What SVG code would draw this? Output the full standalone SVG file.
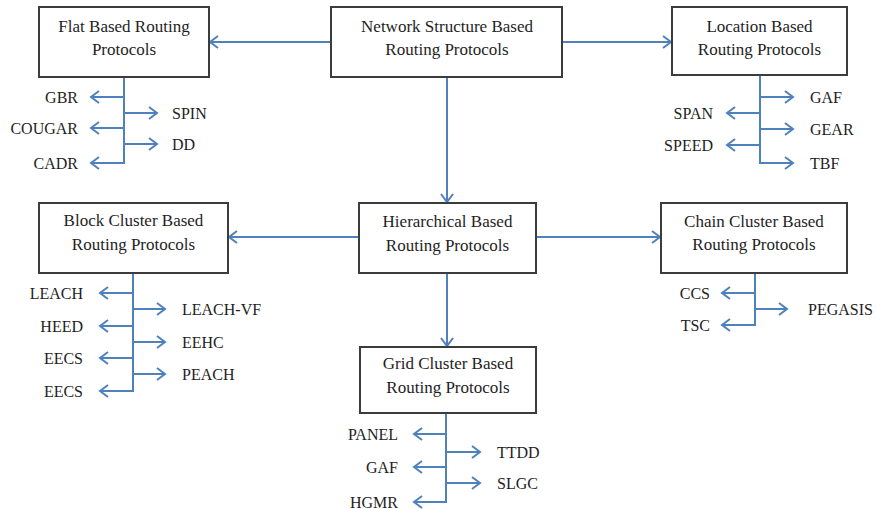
<svg xmlns="http://www.w3.org/2000/svg" width="877" height="509" viewBox="0 0 877 509">
<style>
.box{fill:#fff;stroke:#3c3c3c;stroke-width:2}
.bt{font-family:'Liberation Serif','DejaVu Serif',serif;font-size:17px;fill:#1e1e1e;text-anchor:middle}
.lb{font-family:'Liberation Serif','DejaVu Serif',serif;font-size:16px;fill:#1e1e1e}
.l{text-anchor:end}
.c{stroke:#4f81bd;stroke-width:2;fill:none}
.a{stroke:#4f81bd;stroke-width:2;fill:none;marker-end:url(#ah)}
</style>
<defs>
<marker id="ah" markerUnits="userSpaceOnUse" markerWidth="20" markerHeight="20" viewBox="-10 -10 20 20" refX="0" refY="0" orient="auto">
<path d="M-8,-6 L0,0 L-8,6" fill="none" stroke="#4f81bd" stroke-width="2"/>
</marker>
</defs>
<rect width="877" height="509" fill="#fff"/>
<g id="connectors">
<line class="a" x1="331" y1="42" x2="210" y2="42"/>
<line class="a" x1="562" y1="42" x2="671" y2="42"/>
<line class="a" x1="447" y1="77" x2="447" y2="202"/>
<line class="a" x1="359" y1="237" x2="229" y2="237"/>
<line class="a" x1="536" y1="237" x2="660" y2="237"/>
<line class="a" x1="447" y1="273" x2="447" y2="346"/>
<line class="c" x1="124" y1="77" x2="124" y2="164"/>
<line class="a" x1="125" y1="97" x2="91" y2="97"/>
<line class="a" x1="123" y1="113" x2="157" y2="113"/>
<line class="a" x1="125" y1="128" x2="91" y2="128"/>
<line class="a" x1="123" y1="144" x2="157" y2="144"/>
<line class="a" x1="125" y1="163" x2="91" y2="163"/>
<line class="c" x1="760" y1="75" x2="760" y2="164"/>
<line class="a" x1="759" y1="97" x2="793" y2="97"/>
<line class="a" x1="761" y1="113" x2="727" y2="113"/>
<line class="a" x1="759" y1="129" x2="793" y2="129"/>
<line class="a" x1="761" y1="145" x2="727" y2="145"/>
<line class="a" x1="759" y1="163" x2="793" y2="163"/>
<line class="c" x1="133" y1="273" x2="133" y2="392"/>
<line class="a" x1="134" y1="293" x2="100" y2="293"/>
<line class="a" x1="132" y1="309" x2="165" y2="309"/>
<line class="a" x1="134" y1="326" x2="100" y2="326"/>
<line class="a" x1="132" y1="342" x2="165" y2="342"/>
<line class="a" x1="134" y1="358" x2="100" y2="358"/>
<line class="a" x1="132" y1="374" x2="165" y2="374"/>
<line class="a" x1="134" y1="391" x2="100" y2="391"/>
<line class="c" x1="755" y1="273" x2="755" y2="326"/>
<line class="a" x1="756" y1="293" x2="722" y2="293"/>
<line class="a" x1="754" y1="309" x2="787" y2="309"/>
<line class="a" x1="756" y1="325" x2="722" y2="325"/>
<line class="c" x1="446" y1="413" x2="446" y2="503"/>
<line class="a" x1="447" y1="434" x2="414" y2="434"/>
<line class="a" x1="445" y1="452" x2="480" y2="452"/>
<line class="a" x1="447" y1="467" x2="414" y2="467"/>
<line class="a" x1="445" y1="483" x2="480" y2="483"/>
<line class="a" x1="447" y1="502" x2="414" y2="502"/>
</g>
<g id="network"><rect class="box" x="331" y="7" width="231" height="70"/>
<text class="bt" x="447" y="31.5">Network Structure Based</text><text class="bt" x="447" y="55">Routing Protocols</text></g>
<g id="flat"><rect class="box" x="39" y="7" width="170" height="70"/>
<text class="bt" x="124" y="31.5">Flat Based Routing</text><text class="bt" x="124" y="55">Protocols</text></g>
<g id="location"><rect class="box" x="672" y="7" width="175" height="68"/>
<text class="bt" x="759.5" y="31.5">Location Based</text><text class="bt" x="759.5" y="55">Routing Protocols</text></g>
<g id="hierarchical"><rect class="box" x="359" y="203" width="177" height="70"/>
<text class="bt" x="447.5" y="227">Hierarchical Based</text><text class="bt" x="447.5" y="251">Routing Protocols</text></g>
<g id="block"><rect class="box" x="39" y="203" width="189" height="70"/>
<text class="bt" x="133.5" y="226">Block Cluster Based</text><text class="bt" x="133.5" y="250">Routing Protocols</text></g>
<g id="chain"><rect class="box" x="661" y="203" width="186" height="70"/>
<text class="bt" x="754" y="227">Chain Cluster Based</text><text class="bt" x="754" y="250">Routing Protocols</text></g>
<g id="grid"><rect class="box" x="360" y="347" width="176" height="66"/>
<text class="bt" x="448" y="369">Grid Cluster Based</text><text class="bt" x="448" y="393">Routing Protocols</text></g>
<g id="flat-protocols">
<text class="lb l" x="78" y="102.5">GBR</text>
<text class="lb" x="172" y="118.5">SPIN</text>
<text class="lb l" x="78" y="133.5">COUGAR</text>
<text class="lb" x="172" y="149.5">DD</text>
<text class="lb l" x="78" y="168.5">CADR</text>
</g>
<g id="location-protocols">
<text class="lb" x="810" y="102.5">GAF</text>
<text class="lb l" x="713" y="118.5">SPAN</text>
<text class="lb" x="810" y="134.5">GEAR</text>
<text class="lb l" x="713" y="150.5">SPEED</text>
<text class="lb" x="810" y="168.5">TBF</text>
</g>
<g id="block-protocols">
<text class="lb l" x="83" y="298.5">LEACH</text>
<text class="lb" x="182" y="314.5">LEACH-VF</text>
<text class="lb l" x="83" y="331.5">HEED</text>
<text class="lb" x="182" y="347.5">EEHC</text>
<text class="lb l" x="83" y="363.5">EECS</text>
<text class="lb" x="182" y="379.5">PEACH</text>
<text class="lb l" x="83" y="396.5">EECS</text>
</g>
<g id="chain-protocols">
<text class="lb l" x="710" y="298.5">CCS</text>
<text class="lb" x="808" y="314.5">PEGASIS</text>
<text class="lb l" x="710" y="330.5">TSC</text>
</g>
<g id="grid-protocols">
<text class="lb l" x="398" y="439.5">PANEL</text>
<text class="lb" x="497" y="457.5">TTDD</text>
<text class="lb l" x="398" y="472.5">GAF</text>
<text class="lb" x="497" y="488.5">SLGC</text>
<text class="lb l" x="398" y="507.5">HGMR</text>
</g>
</svg>
